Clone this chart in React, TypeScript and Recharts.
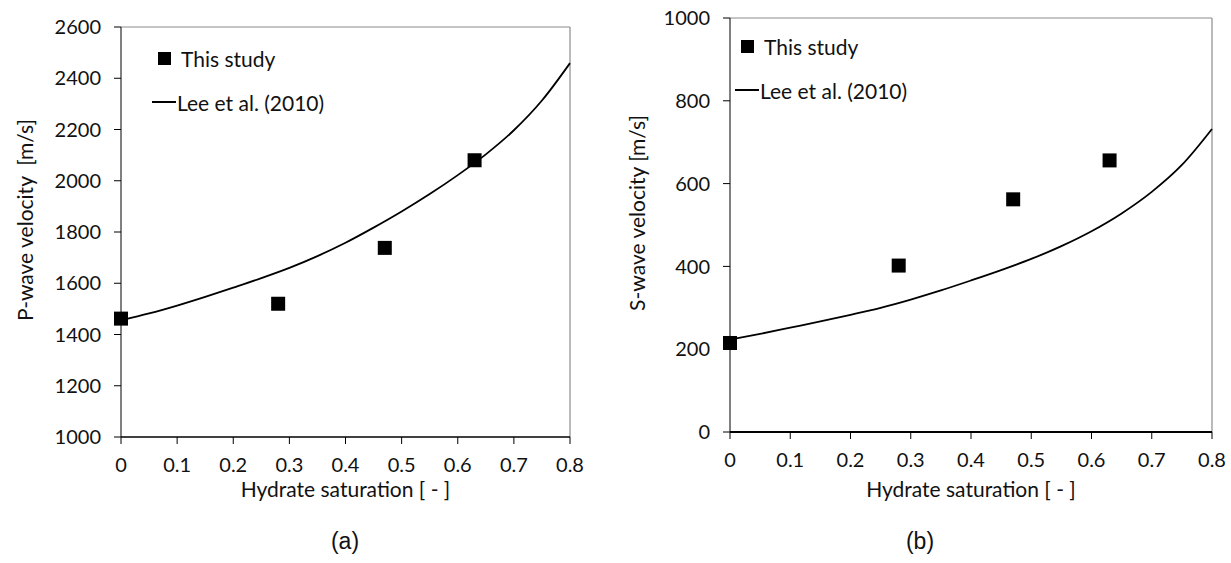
import React from 'react';
import {
  ComposedChart,
  Line,
  Scatter,
  XAxis,
  YAxis,
  ReferenceLine,
} from 'recharts';

const FONT = 'Lato, "Open Sans", sans-serif';

// hydrate saturation ticks shared by both panels
const satTicks = [0, 0.1, 0.2, 0.3, 0.4, 0.5, 0.6, 0.7, 0.8];
const pTicks = [1000, 1200, 1400, 1600, 1800, 2000, 2200, 2400, 2600];
const sTicks = [0, 200, 400, 600, 800, 1000];

// measured points (this study)
const studySat = [0, 0.28, 0.47, 0.63];
const studyVp = [1462, 1520, 1738, 2080];
const studyVs = [215, 402, 562, 656];

// Lee et al. (2010) model curve
const leeSat = [0, 0.05, 0.1, 0.15, 0.2, 0.25, 0.3, 0.35, 0.4, 0.45, 0.5, 0.55, 0.6, 0.65, 0.7, 0.75, 0.8];
const leeVp = [1455, 1482, 1513, 1547, 1583, 1620, 1660, 1706, 1758, 1817, 1880, 1948, 2022, 2103, 2197, 2313, 2459];
const leeVs = [223, 237, 252, 267, 283, 300, 320, 342, 366, 391, 418, 449, 485, 528, 580, 645, 732];

const legendLabels = ['This study', 'Lee et al. (2010)'];

const square = (p: any) => (
  <rect x={p.cx - 7} y={p.cy - 7} width={14} height={14} fill="#000" />
);

function Panel({
  left, width, top, bottom, yAxisWidth, yTicks, study, lee, yLabel, yLabelX, yLabelDy, axisWidth,
  legendPos,
}: any) {
  const pts = studySat.map((x, i) => ({ x, y: study[i] }));
  const curve = leeSat.map((x, i) => ({ x, v: lee[i] }));
  const height = 510;
  const xAxisH = height - bottom;
  return (
    <div style={{ position: 'absolute', left, top: 0, width, height }}>
      <ComposedChart
        width={width}
        height={height}
        margin={{ top, right: width === 600 ? 30 : 19, left: 0, bottom: 0 }}
      >
        <XAxis
          type="number"
          dataKey="x"
          domain={[0, 0.8]}
          ticks={satTicks}
          tickFormatter={(v: number) => String(v)}
          height={xAxisH}
          tickSize={7}
          tickMargin={14}
          axisLine={{ stroke: '#000', strokeWidth: axisWidth }}
          tickLine={{ stroke: '#000' }}
          tick={{ fill: '#111', fontSize: 20, fontFamily: FONT }}
          label={(props: any) => {
            const vb = props.viewBox;
            return (
              <text
                x={vb.x + vb.width / 2}
                y={497}
                textAnchor="middle"
                fill="#111"
                fontSize={21}
                fontFamily={FONT}
              >
                Hydrate saturation [ - ]
              </text>
            );
          }}
        />
        <YAxis
          type="number"
          domain={[yTicks[0], yTicks[yTicks.length - 1]]}
          ticks={yTicks}
          width={yAxisWidth}
          tickSize={7}
          tickMargin={13}
          axisLine={{ stroke: '#000' }}
          tickLine={{ stroke: '#000' }}
          tick={{ fill: '#111', fontSize: 20, fontFamily: FONT }}
          label={(props: any) => {
            const vb = props.viewBox;
            const cx = vb.x + yLabelX;
            const cy = vb.y + vb.height / 2 + yLabelDy;
            return (
              <text
                x={cx}
                y={cy}
                transform={`rotate(-90 ${cx} ${cy})`}
                textAnchor="middle"
                dominantBaseline="central"
                fill="#111"
                fontSize={21}
                fontFamily={FONT}
                style={{ whiteSpace: 'pre' }}
              >
                {yLabel}
              </text>
            );
          }}
        />
        <ReferenceLine y={yTicks[yTicks.length - 1]} stroke="#8c8c8c" strokeWidth={1.2} />
        <ReferenceLine x={0.8} stroke="#8c8c8c" strokeWidth={1.2} />
        <Line
          data={curve}
          dataKey="v"
          type="monotone"
          stroke="#000"
          strokeWidth={1.8}
          dot={false}
          activeDot={false}
          isAnimationActive={false}
        />
        <Scatter data={pts} dataKey="y" shape={square} isAnimationActive={false} />
      </ComposedChart>
      <div style={{ position: 'absolute', left: legendPos[0], top: legendPos[1], fontFamily: FONT, fontSize: 21, color: '#111' }}>
        <div style={{ display: 'flex', alignItems: 'center', height: 24 }}>
          <span style={{ display: 'inline-block', width: 13, height: 13, background: '#000', marginLeft: 6, marginRight: 10 }} />
          <span>{legendLabels[0]}</span>
        </div>
        <div style={{ display: 'flex', alignItems: 'center', height: 24, marginTop: 20 }}>
          <span style={{ display: 'inline-block', width: 24, height: 2, background: '#000', marginRight: 1 }} />
          <span>{legendLabels[1]}</span>
        </div>
      </div>
    </div>
  );
}

export default function App() {
  return (
    <div
      style={{
        position: 'absolute',
        left: 0,
        top: 0,
        width: 1231,
        height: 563,
        background: '#fff',
        overflow: 'hidden',
      }}
    >
      <Panel
        left={0}
        width={600}
        top={27}
        bottom={437}
        yAxisWidth={121}
        yTicks={pTicks}
        study={studyVp}
        lee={leeVp}
        yLabel={'P-wave velocity  [m/s]'}
        yLabelX={24}
        yLabelDy={-12}
        axisWidth={1.5}
        legendPos={[152, 46]}
      />
      <Panel
        left={620}
        width={611}
        top={18}
        bottom={432}
        yAxisWidth={110}
        yTicks={sTicks}
        study={studyVs}
        lee={leeVs}
        yLabel={'S-wave velocity [m/s]'}
        yLabelX={16}
        yLabelDy={-12}
        axisWidth={2.2}
        legendPos={[115, 34]}
      />
      <div style={{ position: 'absolute', left: 0, top: 528, width: 690, textAlign: 'center', fontFamily: '"Liberation Sans", Arial, sans-serif', fontSize: 23, color: '#111' }}>
        (a)
      </div>
      <div style={{ position: 'absolute', left: 620, top: 528, width: 600, textAlign: 'center', fontFamily: '"Liberation Sans", Arial, sans-serif', fontSize: 23, color: '#111' }}>
        (b)
      </div>
    </div>
  );
}
